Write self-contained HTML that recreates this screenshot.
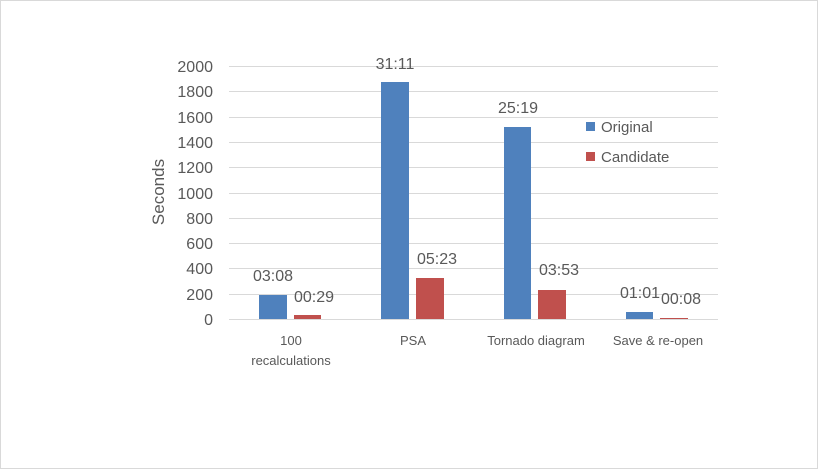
<!DOCTYPE html>
<html><head><style>body{margin:0;background:#fff}svg{display:block}text{font-family:"Liberation Sans",sans-serif;fill:#595959}</style></head>
<body>
<svg width="818" height="469" xmlns="http://www.w3.org/2000/svg">
<rect x="0.5" y="0.5" width="817" height="468" fill="#fff" stroke="#d9d9d9"/>
<g stroke="#d9d9d9" stroke-width="1">
<line x1="229" x2="718" y1="66.5" y2="66.5"/><line x1="229" x2="718" y1="91.5" y2="91.5"/><line x1="229" x2="718" y1="117.5" y2="117.5"/><line x1="229" x2="718" y1="142.5" y2="142.5"/><line x1="229" x2="718" y1="167.5" y2="167.5"/><line x1="229" x2="718" y1="193.5" y2="193.5"/><line x1="229" x2="718" y1="218.5" y2="218.5"/><line x1="229" x2="718" y1="243.5" y2="243.5"/><line x1="229" x2="718" y1="268.5" y2="268.5"/><line x1="229" x2="718" y1="294.5" y2="294.5"/><line x1="229" x2="718" y1="319.5" y2="319.5"/>
</g>
<g font-size="16" text-anchor="end">
<text x="213" y="72">2000</text><text x="213" y="97">1800</text><text x="213" y="123">1600</text><text x="213" y="148">1400</text><text x="213" y="173">1200</text><text x="213" y="199">1000</text><text x="213" y="224">800</text><text x="213" y="249">600</text><text x="213" y="274">400</text><text x="213" y="300">200</text><text x="213" y="325">0</text>
</g>
<text x="164" y="192" font-size="17" text-anchor="middle" transform="rotate(-90 164 192)">Seconds</text>
<g fill="#4f81bd">
<rect x="259" y="295" width="28" height="24"/><rect x="381" y="82" width="28" height="237"/><rect x="504" y="127" width="27" height="192"/><rect x="626" y="312" width="27" height="7"/>
</g>
<g fill="#c0504d">
<rect x="294" y="315" width="27" height="4"/><rect x="416" y="278" width="28" height="41"/><rect x="538" y="290" width="28" height="29"/><rect x="660" y="318" width="28" height="1"/>
</g>
<g font-size="16" text-anchor="middle">
<text x="273" y="281">03:08</text><text x="314" y="302">00:29</text>
<text x="395" y="69">31:11</text><text x="437" y="264">05:23</text>
<text x="518" y="113">25:19</text><text x="559" y="275">03:53</text>
<text x="640" y="298">01:01</text><text x="681" y="304">00:08</text>
</g>
<g font-size="13" text-anchor="middle">
<text x="291" y="345">100</text><text x="291" y="365">recalculations</text>
<text x="413" y="345">PSA</text>
<text x="536" y="345">Tornado diagram</text>
<text x="658" y="345">Save &amp; re-open</text>
</g>
<rect x="586" y="122" width="9" height="9" fill="#4f81bd"/>
<text x="601" y="132" font-size="15">Original</text>
<rect x="586" y="152" width="9" height="9" fill="#c0504d"/>
<text x="601" y="162" font-size="15">Candidate</text>
</svg>
</body></html>
